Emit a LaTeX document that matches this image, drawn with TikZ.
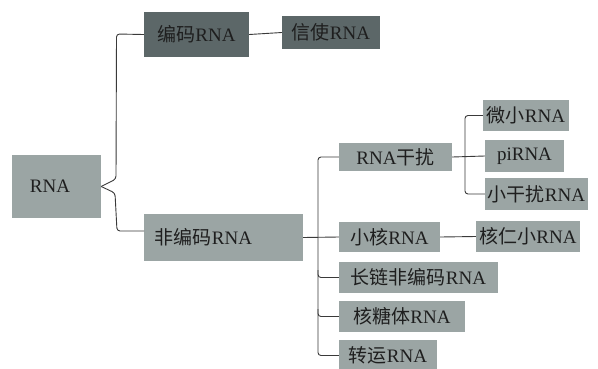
\documentclass[tikz,border=0pt]{standalone}
\usepackage{fontspec}
\setmainfont{Liberation Serif}
\newfontfamily\cjk{Noto Sans CJK SC}
\newcommand{\zh}[1]{{\cjk #1}}
\definecolor{boxlight}{HTML}{9BA5A4}
\definecolor{boxdark}{HTML}{5C6768}
\definecolor{txtdark}{HTML}{1E1E1E}
\definecolor{linec}{HTML}{3A3A3A}
\begin{document}
\begin{tikzpicture}[x=1pt,y=-1pt,
  box/.style={rectangle,fill=boxlight,inner sep=0pt,text=txtdark,font=\fontsize{19}{21}\selectfont},
  darkbox/.style={box,fill=boxdark},
  conn/.style={draw=linec,line width=0.9pt,rounded corners=3pt}]
\useasboundingbox (0,0) rectangle (598,368);
\fill[white] (0,0) rectangle (598,368);
% boxes
\node[box,minimum width=89pt,minimum height=63pt] (rna) at (56.5,186.5) {RNA\hspace*{13pt}};
\node[darkbox,minimum width=105pt,minimum height=45pt] (coding) at (196.5,34.5) {\zh{编码}RNA};
\node[darkbox,minimum width=98pt,minimum height=33pt] (mrna) at (331,32.5) {\zh{信使}RNA};
\node[box,minimum width=159pt,minimum height=47pt] (noncoding) at (223.5,237.5) {\zh{非编码}RNA\hspace*{40pt}};
\node[box,minimum width=113pt,minimum height=28pt] (rnai) at (395.5,157) {RNA\zh{干扰}};
\node[box,minimum width=86pt,minimum height=31pt] (mirna) at (526,115.5) {\zh{微小}RNA};
\node[box,minimum width=79pt,minimum height=32pt] (pirna) at (524.5,156) {piRNA};
\node[box,minimum width=103pt,minimum height=32pt] (sirna) at (536.5,194) {\zh{小干扰}RNA};
\node[box,minimum width=101pt,minimum height=30pt] (snrna) at (389.5,237) {\zh{小核}RNA};
\node[box,minimum width=104pt,minimum height=31pt] (snorna) at (528,236.5) {\zh{核仁小}RNA};
\node[box,minimum width=159pt,minimum height=31pt] (lncrna) at (418.5,277.5) {\zh{长链非编码}RNA};
\node[box,minimum width=126pt,minimum height=31pt] (rrna) at (402,316.5) {\zh{核糖体}RNA};
\node[box,minimum width=98pt,minimum height=31pt] (trna) at (388,355.5) {\zh{转运}RNA};
% connectors
\coordinate (ncin) at (144,231);
\draw[conn] (rna.east) -- (116,179) -- (116.5,34) -- (coding.west);
\draw[conn] (rna.east) -- (115,193) -- (117,231) -- (ncin);
\draw[conn] (coding.east) -- (mrna.west);
\draw[conn] (rnai.west) -- (318,157) -- (318,355.5) -- (trna.west);
\draw[conn] (noncoding.east) -- (snrna.west);
\draw[conn] (318,270) -- (318,277.5) -- (lncrna.west);
\draw[conn] (318,309) -- (318,316.5) -- (rrna.west);
\draw[conn] (mirna.west) -- (465,115.5) -- (465,194) -- (sirna.west);
\draw[conn] (rnai.east) -- (pirna.west);
\draw[conn] (snrna.east) -- (snorna.west);
\end{tikzpicture}
\end{document}
